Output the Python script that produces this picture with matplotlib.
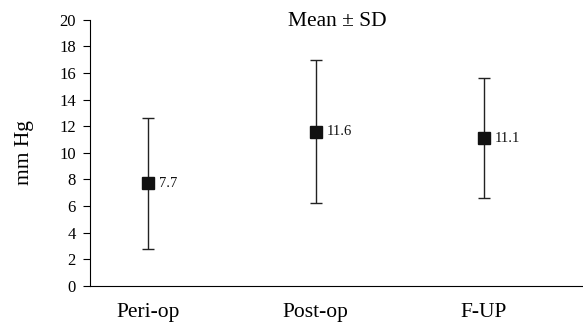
import matplotlib.pyplot as plt

# data
groups = ['Peri-op', 'Post-op', 'F-UP']
means = [7.7, 11.6, 11.1]
sds = [4.9, 5.4, 4.5]
mean_labels = ['7.7', '11.6', '11.1']

plt.rcParams['font.family'] = ['Liberation Serif', 'DejaVu Serif']

fig = plt.figure(figsize=(5.83, 3.26), dpi=100)
ax = fig.add_axes([0.154, 0.123, 0.846, 0.816])

xs = list(range(len(groups)))
ax.errorbar(xs, means, yerr=sds, fmt='s', color='#111111', ecolor='#222222',
            markersize=8, capsize=4, elinewidth=1.0, capthick=1.0)

for x, m, lab in zip(xs, means, mean_labels):
    ax.annotate(lab, (x, m), xytext=(8, 0), textcoords='offset points',
                va='center', ha='left', fontsize=10.5, color='#111111')

ax.set_xlim(-0.345, 2.59)
ax.set_ylim(0, 20)
ax.set_yticks(range(0, 21, 2))
ax.set_xticks(xs)
ax.set_xticklabels(groups, fontsize=15.5)
ax.tick_params(axis='x', length=0, pad=12)
ax.tick_params(axis='y', labelsize=12, length=5, direction='out', pad=5)
ax.set_ylabel('mm Hg', fontsize=15.5, labelpad=18)

ax.spines['top'].set_visible(False)
ax.spines['right'].set_visible(False)

fig.text(337 / 583, 1 - 21 / 326, 'Mean ± SD', fontsize=15.5,
         ha='center', va='center')

plt.savefig('out.png', dpi=100)
